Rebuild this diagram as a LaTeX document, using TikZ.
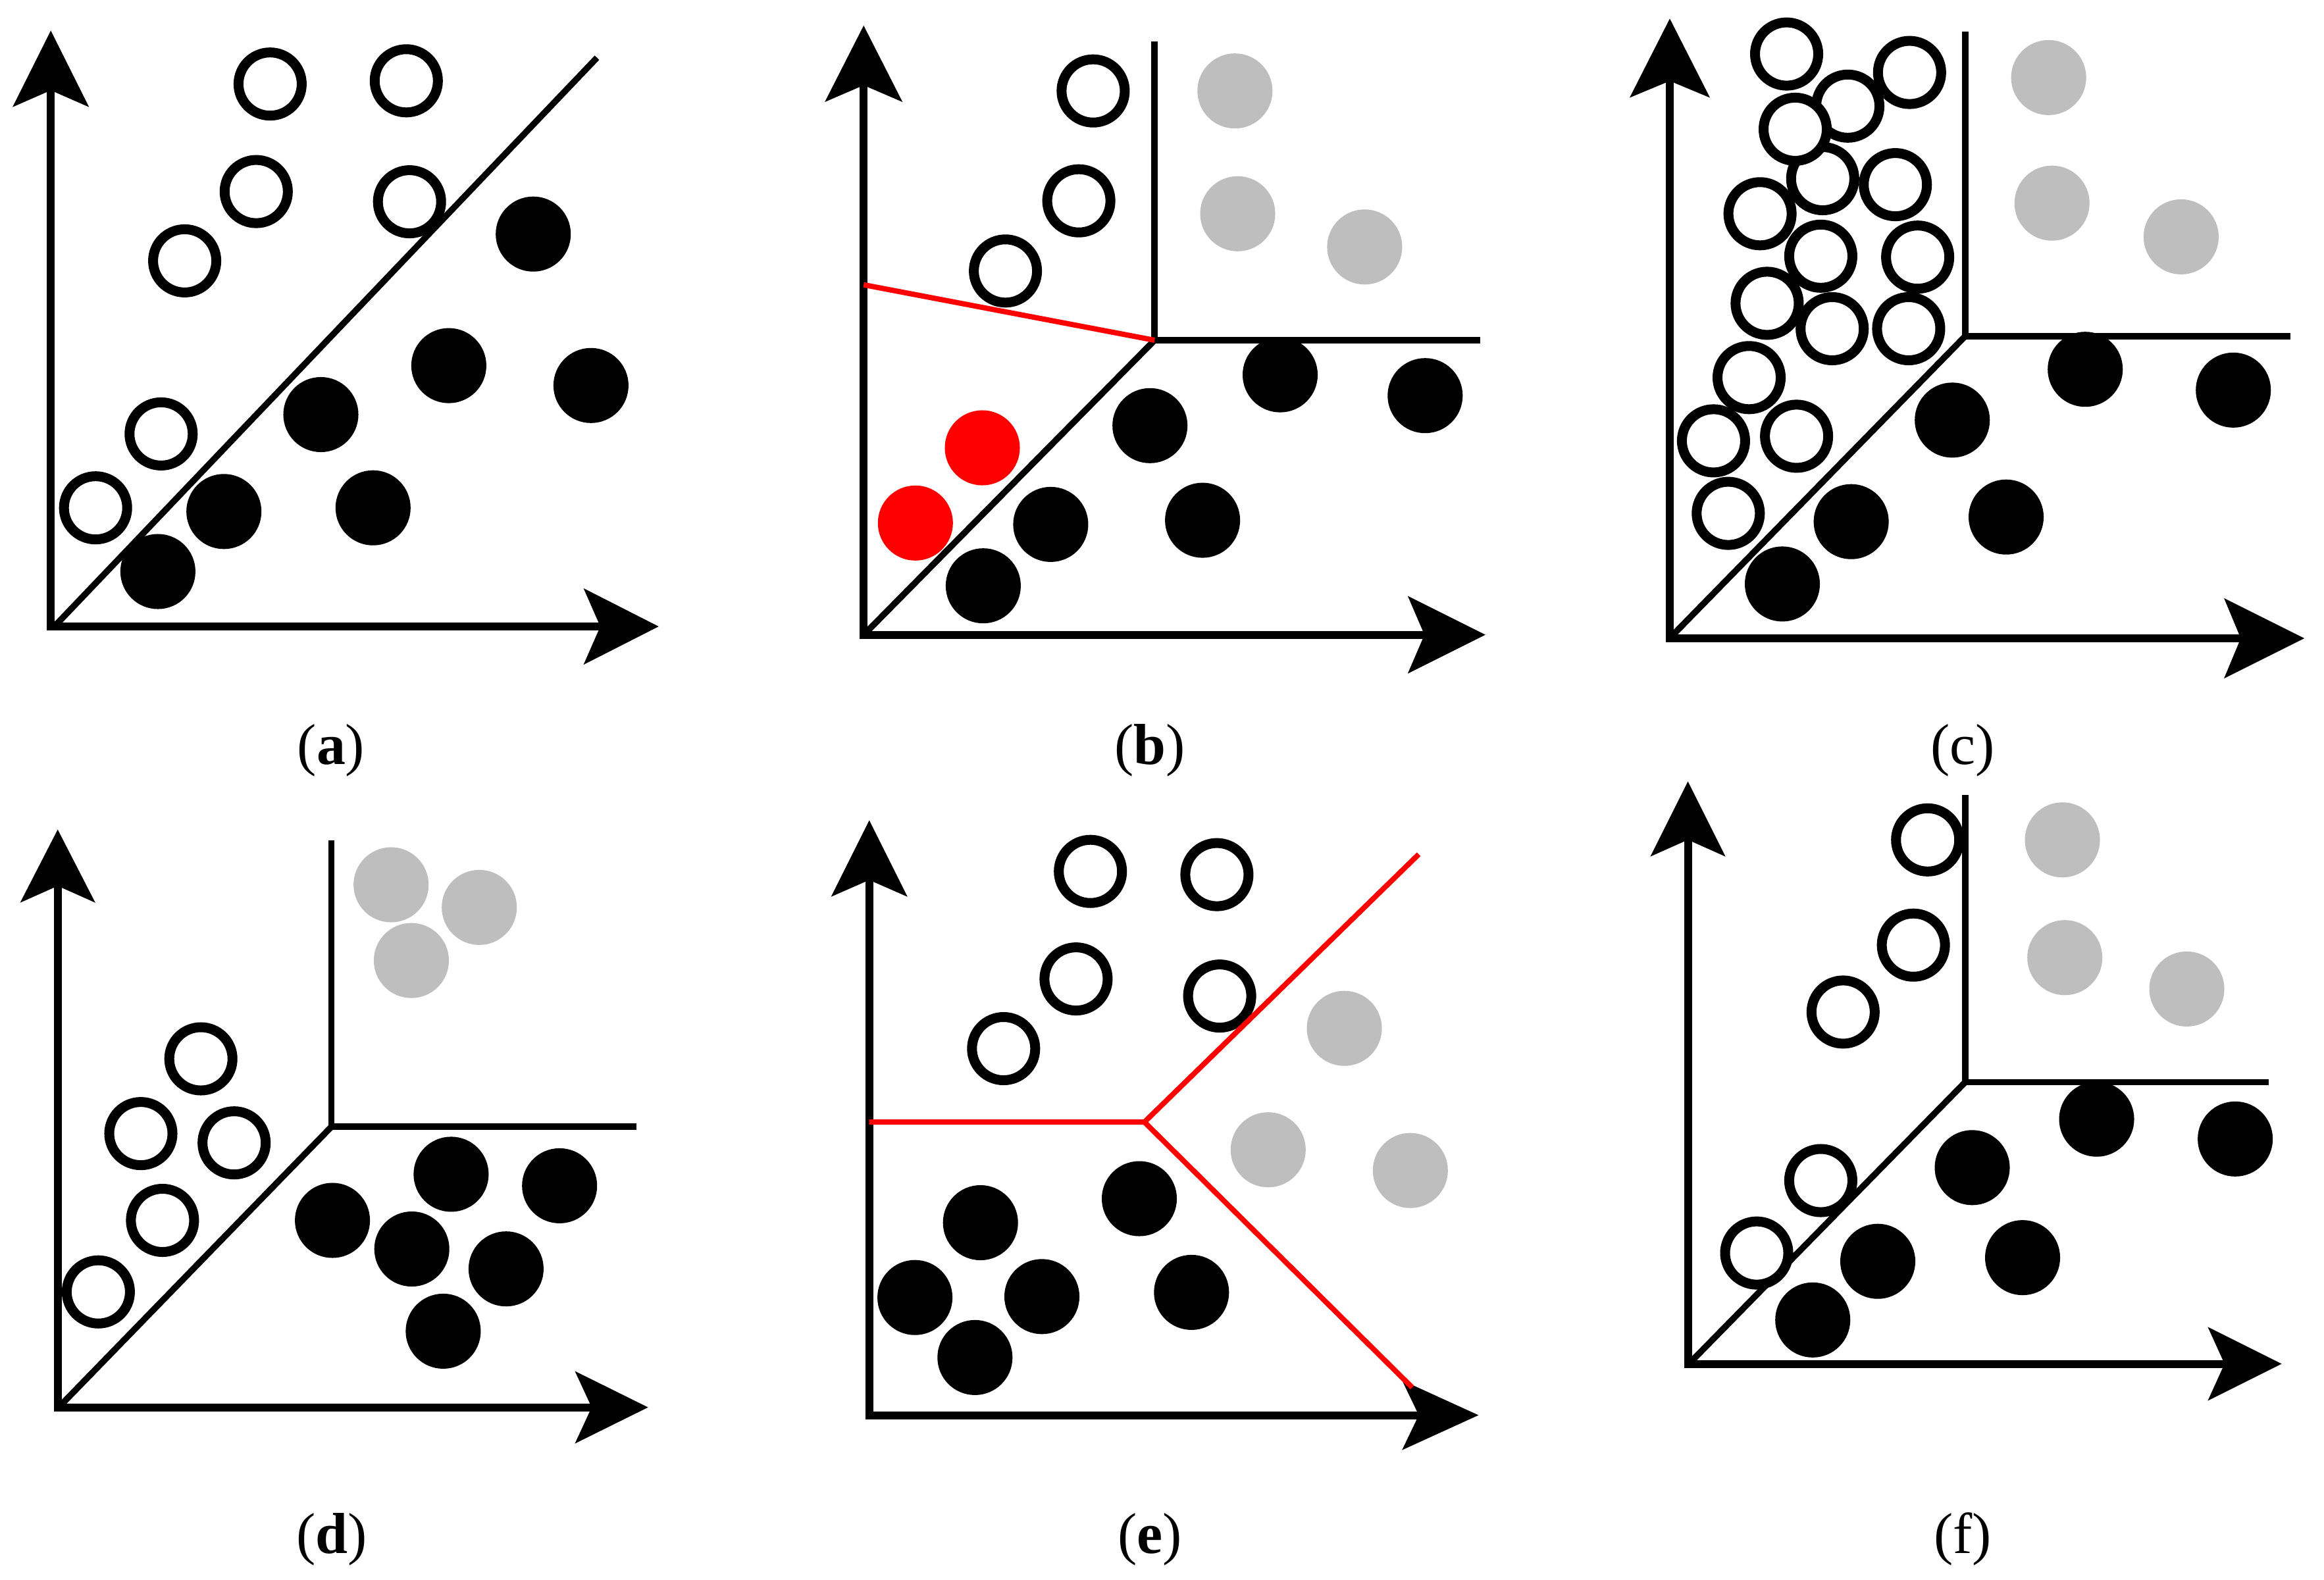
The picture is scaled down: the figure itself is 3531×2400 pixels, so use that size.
\documentclass[tikz,border=0pt]{standalone}
\usepackage{fontspec}
\setmainfont{Liberation Serif}
\definecolor{ptgrey}{RGB}{190,190,190}
\tikzset{
  axisline/.style={line width=0.12cm},
  bound/.style={line width=0.095cm, line join=miter},
  redbound/.style={line width=0.08cm, draw=red},
  openpt/.style={draw=black, fill=white, line width=0.15cm},
  blackpt/.style={fill=black},
  greypt/.style={fill=ptgrey},
  redpt/.style={fill=red},
  headfill/.style={fill=black, draw=black, line width=0.01cm, line join=miter},
  sublabel/.style={inner sep=0pt, font=\fontsize{25}{30}\selectfont},
}
% x, tip y, length, half width
\newcommand{\arrowUp}[4]{\path[headfill] (#1,#2) -- ++(-#4,#3) -- ++(#4,-25) -- ++(#4,25) -- cycle;}
% tip x, y, length, half width
\newcommand{\arrowRight}[4]{\path[headfill] (#1,#2) -- ++(-#3,-#4) -- ++(25,#4) -- ++(-25,#4) -- cycle;}
\newcommand{\op}[1]{\draw[openpt] (#1) circle[radius=0.48cm];}
\newcommand{\bp}[1]{\fill[blackpt] (#1) circle[radius=0.57cm];}
\newcommand{\gp}[1]{\fill[greypt] (#1) circle[radius=0.57cm];}
\newcommand{\rp}[1]{\fill[redpt] (#1) circle[radius=0.57cm];}
\begin{document}
\begin{tikzpicture}[x=0.01cm,y=-0.01cm]
\useasboundingbox (0,0) rectangle (3531,2400);
\fill[white] (0,0) rectangle (3531,2400);

% ---------------- (a)
\coordinate (ao) at (77.2,952);
\draw[axisline] (77.2,958) -- (77.2,110);
\draw[axisline] (71.2,952) -- (950,952);
\arrowUp{77.2}{47.7}{114}{57}
\arrowRight{999.6}{952}{112}{57}
\draw[bound] (80.7,954) -- (907,87.7);
\op{410.4,127.7} \op{617.3,122.8} \op{389.3,291.1} \op{622.2,306.6}
\op{280.6,396.4} \op{244.8,659.4} \op{145.2,771.7}
\bp{810.2,355.7} \bp{681.9,555.6} \bp{897.9,585.8} \bp{487.5,630}
\bp{340.2,777.3} \bp{566.8,771.7} \bp{239.9,868.5}
\node[sublabel] (la) at (503,1140) {(\textbf{a})};

% ---------------- (b)
\coordinate (bo) at (1312.2,964.6);
\coordinate (bc) at (1754.2,517);
\draw[axisline] (1312.2,970.6) -- (1312.2,100);
\draw[axisline] (1306.2,964.6) -- (2200,964.6);
\arrowUp{1312.2}{40}{114}{58}
\arrowRight{2255.8}{964.6}{116}{58}
\draw[bound] (1754.2,63) -- (bc) -- (2248.8,517);
\draw[bound] (bc) -- (1315,962);
\op{1660.9,138.2} \op{1639.1,305.2} \op{1527.6,411.8}
\gp{1876.3,138.2} \gp{1880.5,324.8} \gp{2073.4,375.3}
\rp{1492.5,680.5} \rp{1390.8,794.8}
\bp{1945,569.6} \bp{2165.3,601.2} \bp{1747.2,646.8} \bp{1596.4,796.9}
\bp{1827.1,790.6} \bp{1493.9,890.2}
\draw[redbound] (1312.2,432.8) -- (bc);
\node[sublabel] (lb) at (1747,1140) {(\textbf{b})};

% ---------------- (c)
\coordinate (co) at (2537,970);
\coordinate (cc) at (2985.7,511);
\draw[axisline] (2537,976) -- (2537,90);
\draw[axisline] (2531,970) -- (3440,970);
\arrowUp{2537}{29.5}{118}{60}
\arrowRight{3500}{970}{120}{60}
\draw[bound] (2985.7,47.7) -- (cc) -- (3479.8,511);
\draw[bound] (cc) -- (2540.6,966);
\gp{3112.6,117.9} \gp{3117.7,308.7} \gp{3313.9,359.9}
\bp{3168.2,561.2} \bp{3393.2,592.8} \bp{2966.2,638.4} \bp{2812.6,792.7}
\bp{3048,785.7} \bp{2708,887.4}
\op{2625.8,780.1} \op{2603.4,669.9} \op{2729.6,662.9} \op{2657.5,573.8}
\op{2783.7,499.5} \op{2899.9,499.5} \op{2684.9,460.9} \op{2913.6,390.7}
\op{2766.4,389.3} \op{2674.1,324.8} \op{2879.7,280.6} \op{2769.3,271.5}
\op{2807.5,161.3} \op{2901.3,110.1} \op{2714.5,82.1} \op{2727.5,196.4}
\node[sublabel] (lc) at (2982,1140) {(c)};

% ---------------- (d)
\coordinate (do) at (87.7,2138.6);
\coordinate (dc) at (503.7,1712);
\draw[axisline] (87.7,2144.6) -- (87.7,1320);
\draw[axisline] (81.7,2138.6) -- (930,2138.6);
\arrowUp{87.7}{1261.7}{109}{56}
\arrowRight{983.5}{2138.6}{109}{54}
\draw[bound] (503.7,1277.2) -- (dc) -- (966.7,1712);
\draw[bound] (dc) -- (91.2,2136.5);
\op{305.2,1609} \op{214,1722.6} \op{355.7,1736.7} \op{246.9,1854.5} \op{149.4,1963.2}
\gp{594.2,1344.5} \gp{728.2,1378.9} \gp{625,1459.6}
\bp{685.4,1784.4} \bp{850.2,1801.9} \bp{505.1,1854.5} \bp{625.7,1898}
\bp{768.9,1928.2} \bp{673.4,2022.9}
\node[sublabel] (ld) at (504,2339) {(\textbf{d})};

% ---------------- (e)
\coordinate (eo) at (1320.7,2150.5);
\coordinate (ec) at (1738.8,1705.1);
\draw[axisline] (1320.7,2156.5) -- (1320.7,1300);
\draw[axisline] (1314.7,2150.5) -- (2190,2150.5);
\arrowUp{1320.7}{1247.7}{114}{57}
\arrowRight{2245.2}{2150.5}{114}{52}
\op{1656.7,1324.2} \op{1848.9,1329.1} \op{1634.9,1487.6} \op{1853.1,1513.6} \op{1524.8,1593.5}
\gp{2042.5,1562.7} \gp{1926.8,1747.2} \gp{2142.8,1778.7}
\bp{1731,1821.5} \bp{1489.7,1858} \bp{1390.1,1971.7} \bp{1583,1970.3}
\bp{1810.3,1963.9} \bp{1481.3,2062.9}
\draw[redbound, line join=miter] (1320.7,1705.1) -- (ec) -- (2155.5,1298.2);
\draw[redbound] (ec) -- (2145.6,2108.4);
\node[sublabel] (le) at (1747,2339) {(\textbf{e})};

% ---------------- (f)
\coordinate (fo) at (2564.5,2072.5);
\coordinate (fc) at (2985.7,1644.6);
\draw[axisline] (2564.5,2078.5) -- (2564.5,1240);
\draw[axisline] (2558.5,2072.5) -- (3410,2072.5);
\arrowUp{2564.5}{1188.6}{112}{56}
\arrowRight{3465.4}{2072.5}{110}{55}
\draw[bound] (2985.7,1208.2) -- (fc) -- (3447.3,1644.6);
\draw[bound] (fc) -- (2569.5,2069);
\gp{3133.5,1276.3} \gp{3137.2,1455.2} \gp{3322.5,1502.9}
\bp{3185.5,1700.7} \bp{3396.1,1730.8} \bp{2996.5,1774.3} \bp{2853,1916.7}
\bp{3073,1911.1} \bp{2754.2,2005.8}
\op{2928.7,1276.3} \op{2907.1,1436.2} \op{2800.3,1537.9} \op{2766.4,1794} \op{2669,1904.1}
\node[sublabel] (lf) at (2982,2339) {(f)};
\end{tikzpicture}
\end{document}
